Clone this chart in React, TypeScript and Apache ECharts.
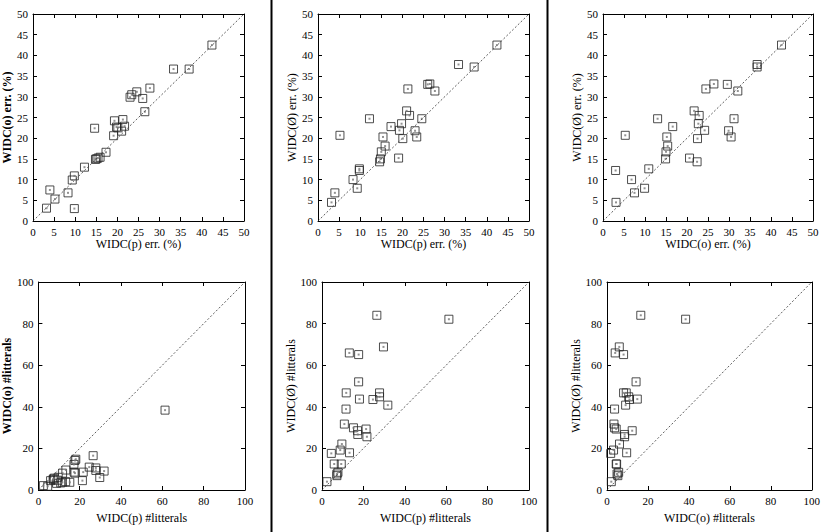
import React, { useEffect, useRef } from "react";
import * as echarts from "echarts";

// Error rates (%) per dataset for WIDC(p), WIDC(o), WIDC(Ø)
const errP = [3.2, 4.0, 5.2, 8.3, 9.3, 9.8, 9.8, 12.2, 14.6, 14.8, 15.0, 15.4, 15.9, 17.3, 19.1, 19.3, 19.8, 20.1, 21.0, 21.3, 21.7, 23.0, 23.4, 24.6, 26.0, 26.5, 27.7, 33.3, 37.0, 42.4];
const errO = [3.1, 7.5, 5.3, 6.8, 9.9, 10.9, 3.0, 13.0, 22.4, 14.9, 15.0, 15.2, 15.4, 16.6, 20.6, 24.2, 22.7, 22.5, 21.7, 24.5, 22.9, 29.9, 30.5, 31.2, 29.6, 26.4, 32.1, 36.7, 36.7, 42.5];
const errE = [4.5, 6.8, 20.7, 10.0, 7.9, 12.6, 12.2, 24.7, 14.3, 15.0, 16.7, 20.3, 18.1, 22.8, 15.2, 21.9, 23.5, 19.9, 26.6, 31.9, 25.5, 21.8, 20.3, 24.7, 33.0, 33.1, 31.4, 37.8, 37.2, 42.5];

// Number of litterals per dataset for WIDC(p), WIDC(o), WIDC(Ø)
const litP = [2.4, 4.5, 5.9, 7.2, 7.2, 7.7, 8.8, 9.3, 9.6, 10.8, 11.6, 11.7, 13.2, 13.3, 15.2, 17.2, 17.3, 17.7, 17.7, 18.1, 21.3, 21.7, 24.6, 26.5, 27.8, 27.8, 29.7, 31.8, 61.3];
const litO = [2.1, 1.8, 4.5, 5.3, 4.9, 5.7, 3.2, 4.7, 6.1, 3.4, 3.7, 8.1, 4.0, 9.6, 3.7, 12.3, 8.6, 8.1, 14.2, 14.8, 4.5, 8.6, 11.0, 16.5, 9.4, 10.6, 6.0, 9.1, 38.4];
const litE = [4.0, 17.6, 12.5, 6.9, 7.7, 8.5, 19.2, 12.5, 22.1, 31.7, 38.9, 46.7, 65.9, 17.9, 29.9, 28.5, 26.7, 65.1, 52.0, 43.7, 29.3, 25.6, 43.5, 84.0, 46.7, 44.8, 68.8, 40.8, 82.1];

const FONT = "Liberation Serif";

type Panel = {
  xs: number[];
  ys: number[];
  max: number;
  interval: number;
  xName: string;
  yName: string;
  boldY: boolean;
  grid: { left: number; top: number; width: number; height: number };
  xGap: number;
  yGap: number;
};

const panels: Panel[] = [
  { xs: errP, ys: errO, max: 50, interval: 5, xName: "WIDC(p) err. (%)", yName: "WIDC(o) err. (%)", boldY: true, grid: { left: 33, top: 14, width: 211, height: 207 }, xGap: 16, yGap: 12 },
  { xs: errP, ys: errE, max: 50, interval: 5, xName: "WIDC(p) err. (%)", yName: "WIDC(Ø) err. (%)", boldY: false, grid: { left: 318, top: 14, width: 211, height: 207 }, xGap: 16, yGap: 12 },
  { xs: errO, ys: errE, max: 50, interval: 5, xName: "WIDC(o) err. (%)", yName: "WIDC(Ø) err. (%)", boldY: false, grid: { left: 603, top: 14, width: 210, height: 207 }, xGap: 16, yGap: 17 },
  { xs: litP, ys: litO, max: 100, interval: 20, xName: "WIDC(p) #litterals", yName: "WIDC(o) #litterals", boldY: true, grid: { left: 38, top: 282, width: 207, height: 208 }, xGap: 22, yGap: 24 },
  { xs: litP, ys: litE, max: 100, interval: 20, xName: "WIDC(p) #litterals", yName: "WIDC(Ø) #litterals", boldY: false, grid: { left: 322, top: 282, width: 207, height: 208 }, xGap: 22, yGap: 15 },
  { xs: litO, ys: litE, max: 100, interval: 20, xName: "WIDC(o) #litterals", yName: "WIDC(Ø) #litterals", boldY: false, grid: { left: 607, top: 282, width: 206, height: 208 }, xGap: 22, yGap: 22 },
];

export default function App() {
  const ref = useRef<HTMLDivElement>(null);
  useEffect(() => {
    if (!ref.current) return;
    const chart = echarts.init(ref.current, null, { renderer: "svg" });
    const lineStyle = { color: "#000", width: 1 };
    const grids: any[] = [];
    const xAxes: any[] = [];
    const yAxes: any[] = [];
    const series: any[] = [];
    panels.forEach((p, i) => {
      grids.push({ ...p.grid, containLabel: false });
      const base = {
        gridIndex: i,
        type: "value",
        min: 0,
        max: p.max,
        interval: p.interval,
        splitLine: { show: false },
        axisLine: { show: true, onZero: false, lineStyle },
        axisTick: { show: true, inside: true, length: 4, lineStyle },
      };
      xAxes.push({
        ...base,
        position: "bottom",
        name: p.xName,
        nameLocation: "middle",
        nameGap: p.xGap,
        nameTextStyle: { fontFamily: FONT, fontSize: 12, color: "#000" },
        axisLabel: { fontFamily: FONT, fontSize: 11, color: "#000", margin: 5 },
      });
      xAxes.push({ ...base, position: "top", axisLabel: { show: false } });
      yAxes.push({
        ...base,
        position: "left",
        name: p.yName,
        nameLocation: "middle",
        nameGap: p.yGap,
        nameRotate: 90,
        nameTextStyle: { fontFamily: FONT, fontSize: 12, color: "#000", fontWeight: p.boldY ? "bold" : "normal" },
        axisLabel: { fontFamily: FONT, fontSize: 11, color: "#000", margin: 5 },
      });
      yAxes.push({ ...base, position: "right", axisLabel: { show: false } });
      const data = p.xs.map((x, k) => [x, p.ys[k]]);
      series.push({
        type: "line",
        xAxisIndex: 2 * i,
        yAxisIndex: 2 * i,
        data: [[0, 0], [p.max, p.max]],
        symbol: "none",
        silent: true,
        lineStyle: { color: "#333", width: 0.8, type: [2, 2] },
      });
      series.push({
        type: "scatter",
        xAxisIndex: 2 * i,
        yAxisIndex: 2 * i,
        data,
        symbol: "rect",
        symbolSize: 8,
        itemStyle: { color: "rgba(255,255,255,0)", borderColor: "#222", borderWidth: 1 },
      });
      series.push({
        type: "scatter",
        xAxisIndex: 2 * i,
        yAxisIndex: 2 * i,
        data,
        symbol: "rect",
        symbolSize: 2,
        itemStyle: { color: "#777" },
      });
    });
    chart.setOption({
      animation: false,
      backgroundColor: "#fff",
      grid: grids,
      xAxis: xAxes,
      yAxis: yAxes,
      series,
      graphic: [
        { type: "line", shape: { x1: 271.5, y1: 0, x2: 271.5, y2: 532 }, style: { stroke: "#000", lineWidth: 2 } },
        { type: "line", shape: { x1: 547.5, y1: 0, x2: 547.5, y2: 532 }, style: { stroke: "#000", lineWidth: 2 } },
      ],
    });
    return () => chart.dispose();
  }, []);
  return (
    <div
      ref={ref}
      style={{ position: "absolute", left: 0, top: 0, width: 823, height: 532, background: "#fff" }}
    />
  );
}
